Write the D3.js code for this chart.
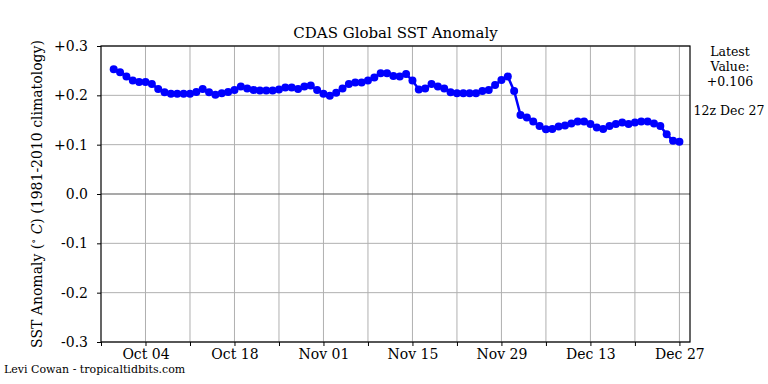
<!DOCTYPE html>
<html>
<head>
<meta charset="utf-8">
<script src="https://cdn.jsdelivr.net/npm/d3@7"></script>
<style>
  body { margin: 0; background: #fff; }
  svg text { font-family: "DejaVu Serif", serif; fill: #000; }
</style>
</head>
<body>
<div id="chart"></div>
<script>
const svgWidth = 768;
const svgHeight = 384;

// Daily anomalies, Sep 29 .. Dec 27 (one value per day)
const startDate = '2023-09-29';
const anomalies = [
  0.253, 0.247, 0.238, 0.230, 0.227, 0.227, 0.223, 0.213, 0.206, 0.203,
  0.203, 0.203, 0.203, 0.207, 0.213, 0.206, 0.201, 0.204, 0.207, 0.211,
  0.218, 0.214, 0.211, 0.210, 0.210, 0.210, 0.212, 0.216, 0.216, 0.213,
  0.218, 0.220, 0.211, 0.203, 0.199, 0.205, 0.214, 0.223, 0.226, 0.226,
  0.230, 0.236, 0.245, 0.245, 0.239, 0.238, 0.243, 0.230, 0.212, 0.214,
  0.223, 0.218, 0.214, 0.206, 0.204, 0.204, 0.204, 0.204, 0.209, 0.211,
  0.221, 0.231, 0.238, 0.209, 0.160, 0.155, 0.147, 0.138, 0.131, 0.132,
  0.137, 0.139, 0.143, 0.147, 0.147, 0.142, 0.135, 0.132, 0.138, 0.142,
  0.145, 0.142, 0.145, 0.147, 0.147, 0.143, 0.138, 0.121, 0.108, 0.106
];
const yTicks = [-0.3, -0.2, -0.1, 0, 0.1, 0.2, 0.3];
const yTickLabels = ['-0.3', '-0.2', '-0.1', '0.0', '+0.1', '+0.2', '+0.3'];
const xTickLabels = ['Oct 04', 'Oct 18', 'Nov 01', 'Nov 15', 'Nov 29', 'Dec 13', 'Dec 27'];
const sideLines = ['Latest', 'Value:', '+0.106'];
const validTime = '12z Dec 27';

const margin = { top: 46, right: 78, bottom: 42, left: 101 };
const chartWidth = svgWidth - margin.left - margin.right;
const chartHeight = svgHeight - margin.top - margin.bottom;

const parseDay = d3.utcParse('%Y-%m-%d');
const t0 = parseDay(startDate);
const data = anomalies.map((v, i) => ({ date: d3.utcDay.offset(t0, i), value: v }));

const xStart = d3.utcDay.offset(t0, -2);
const xEnd = d3.utcHour.offset(d3.utcDay.offset(data[data.length - 1].date, 1), 16);

const xScale = d3.scaleUtc().domain([xStart, xEnd]).range([0, chartWidth]);
const yScale = d3.scaleLinear().domain([-0.3, 0.3]).range([chartHeight, 0]);

const weekTicks = d3.range(0, 14).map(i => d3.utcDay.offset(xStart, i * 7));
const fmt = d3.utcFormat('%b %d');

const svg = d3.select('#chart').append('svg').attr('width', svgWidth).attr('height', svgHeight);
const g = svg.append('g').attr('transform', `translate(${margin.left},${margin.top})`);

// grid
g.append('g')
  .selectAll('line')
  .data(weekTicks.slice(1))
  .enter()
  .append('line')
  .attr('x1', d => xScale(d)).attr('x2', d => xScale(d))
  .attr('y1', 0).attr('y2', chartHeight)
  .attr('stroke', '#b0b0b0').attr('stroke-width', 1);

g.append('g')
  .selectAll('line')
  .data(yTicks.filter(d => d !== 0))
  .enter()
  .append('line')
  .attr('x1', 0).attr('x2', chartWidth)
  .attr('y1', d => yScale(d)).attr('y2', d => yScale(d))
  .attr('stroke', '#b0b0b0').attr('stroke-width', 1);

// zero line
g.append('line')
  .attr('x1', 0).attr('x2', chartWidth)
  .attr('y1', yScale(0)).attr('y2', yScale(0))
  .attr('stroke', '#555').attr('stroke-width', 1.2);

// axes
const xAxis = g.append('g')
  .attr('transform', `translate(0,${chartHeight})`)
  .call(d3.axisBottom(xScale).tickValues(weekTicks).tickSize(4).tickPadding(3)
    .tickFormat(d => xTickLabels.includes(fmt(d)) ? fmt(d) : ''));

const yAxis = g.append('g')
  .call(d3.axisLeft(yScale).tickValues(yTicks).tickSize(4).tickPadding(9)
    .tickFormat((d, i) => yTickLabels[i]));

[xAxis, yAxis].forEach(a => {
  a.select('.domain').remove();
  a.selectAll('.tick line').attr('stroke', '#000');
  a.selectAll('.tick text').style('font-size', '14px').style('font-family', '"DejaVu Serif", serif');
});

// frame
g.append('rect')
  .attr('width', chartWidth).attr('height', chartHeight)
  .attr('fill', 'none').attr('stroke', '#000').attr('stroke-width', 1.2);

// series
const line = d3.line().x(d => xScale(d.date)).y(d => yScale(d.value));
g.append('path')
  .datum(data)
  .attr('d', line)
  .attr('fill', 'none')
  .attr('stroke', '#0000ff')
  .attr('stroke-width', 2.5);

g.selectAll('circle')
  .data(data)
  .enter()
  .append('circle')
  .attr('cx', d => xScale(d.date))
  .attr('cy', d => yScale(d.value))
  .attr('r', 4)
  .attr('fill', '#0000ff');

// title
svg.append('text')
  .attr('x', margin.left + chartWidth / 2)
  .attr('y', 38)
  .attr('text-anchor', 'middle')
  .style('font-size', '15px')
  .text('CDAS Global SST Anomaly');

// y label
const yLabel = svg.append('text')
  .attr('transform', `translate(42,${margin.top + chartHeight / 2}) rotate(-90)`)
  .attr('text-anchor', 'middle')
  .style('font-size', '14px');
yLabel.append('tspan').text('SST Anomaly (');
yLabel.append('tspan').attr('dy', -5).style('font-size', '10px').text('∘');
yLabel.append('tspan').attr('dy', 5).text(' ');
yLabel.append('tspan').style('font-style', 'italic').text('C');
yLabel.append('tspan').text(') (1981-2010 climatology)');

// side note
svg.append('g')
  .selectAll('text')
  .data(sideLines)
  .enter()
  .append('text')
  .attr('x', 730)
  .attr('y', (d, i) => 56 + i * 15)
  .attr('text-anchor', 'middle')
  .style('font-size', '12.5px')
  .text(d => d);

svg.append('text')
  .attr('x', 729)
  .attr('y', 115)
  .attr('text-anchor', 'middle')
  .style('font-size', '12.5px')
  .text(validTime);

// credit
svg.append('text')
  .attr('x', 4)
  .attr('y', 373)
  .style('font-size', '11px')
  .text('Levi Cowan - tropicaltidbits.com');
</script>
</body>
</html>
